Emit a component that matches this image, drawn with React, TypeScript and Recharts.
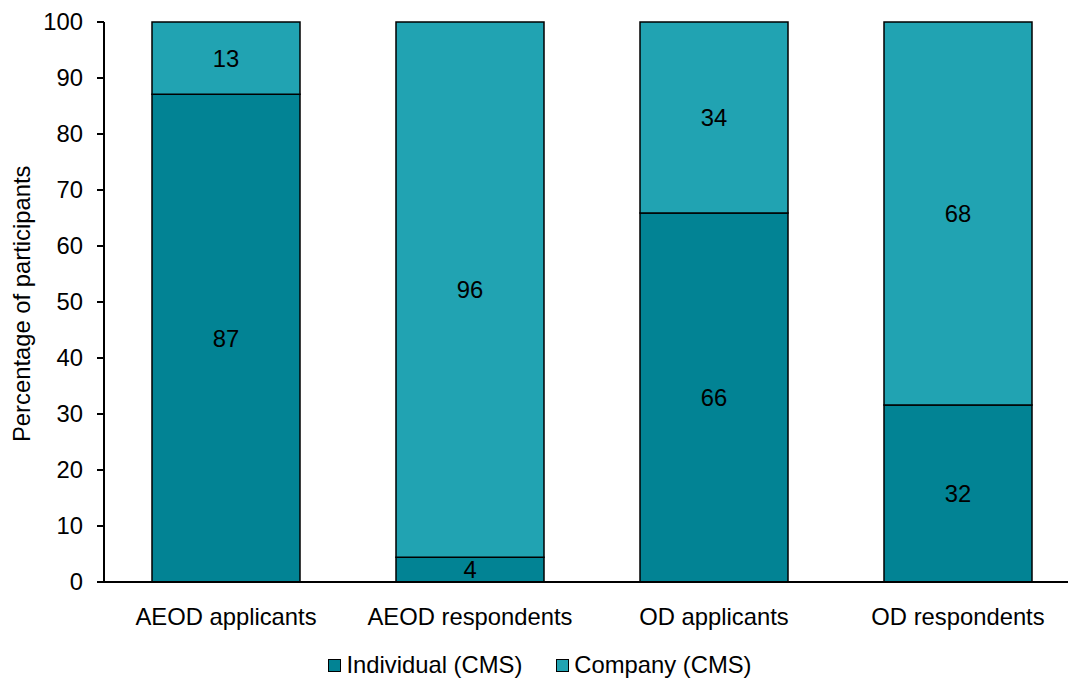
import { BarChart, Bar, XAxis, YAxis, Legend, LabelList } from 'recharts'

const categories = ['AEOD applicants', 'AEOD respondents', 'OD applicants', 'OD respondents']
const individual = [87.1, 4.4, 65.9, 31.6]
const company = [12.9, 95.6, 34.1, 68.4]
const yTicks = [0, 10, 20, 30, 40, 50, 60, 70, 80, 90, 100]

const data = categories.map((name, i) => ({ name, individual: individual[i], company: company[i] }))

const FONT = 'Liberation Sans, Arial, sans-serif'
const FS = 23.8
const IND_COLOR = '#028394'
const COMP_COLOR = '#21A3B2'

const LegendContent = () => (
  <div style={{ display: 'flex', justifyContent: 'center', gap: 34, fontFamily: FONT, fontSize: FS, color: '#000', height: 42, boxSizing: 'border-box', alignItems: 'flex-start', paddingTop: 14 }}>
    {[['Individual (CMS)', IND_COLOR], ['Company (CMS)', COMP_COLOR]].map(([label, color]) => (
      <div key={label} style={{ display: 'flex', alignItems: 'center', gap: 5, lineHeight: '26px' }}>
        <span style={{ width: 11, height: 11, background: color, border: '1.5px solid #000', display: 'inline-block' }} />
        <span>{label}</span>
      </div>
    ))}
  </div>
)

export default function App() {
  return (
    <div style={{ position: 'absolute', left: 0, top: 0, width: 1068, height: 680, overflow: 'hidden', background: '#fff' }}>
      <BarChart width={1080} height={680} data={data} margin={{ top: 22, right: 0, left: 0, bottom: 0 }} barSize={148}>
        <XAxis
          dataKey="name"
          height={56}
          tickLine={false}
          axisLine={{ stroke: '#000', strokeWidth: 2 }}
          tickMargin={20}
          tick={{ fill: '#000', fontSize: FS, fontFamily: FONT }}
        />
        <YAxis
          width={104}
          domain={[0, 100]}
          ticks={yTicks}
          interval={0}
          tickSize={7}
          tickMargin={14}
          axisLine={{ stroke: '#000', strokeWidth: 2 }}
          tickLine={{ stroke: '#000', strokeWidth: 2 }}
          tick={{ fill: '#000', fontSize: FS, fontFamily: FONT }}
          label={{ value: 'Percentage of participants', angle: -90, position: 'insideLeft', offset: 22, dy: 140, style: { fill: '#000', fontSize: FS, fontFamily: FONT } }}
        />
        <Legend verticalAlign="bottom" height={42} content={<LegendContent />} />
        <Bar dataKey="individual" name="Individual (CMS)" stackId="a" fill={IND_COLOR} stroke="#000" strokeWidth={1.5} isAnimationActive={false}>
          <LabelList dataKey="individual" position="center" formatter={(v: any) => Math.round(Number(v))} style={{ fill: '#000', fontSize: FS, fontFamily: FONT }} />
        </Bar>
        <Bar dataKey="company" name="Company (CMS)" stackId="a" fill={COMP_COLOR} stroke="#000" strokeWidth={1.5} isAnimationActive={false}>
          <LabelList dataKey="company" position="center" formatter={(v: any) => Math.round(Number(v))} style={{ fill: '#000', fontSize: FS, fontFamily: FONT }} />
        </Bar>
      </BarChart>
    </div>
  )
}
